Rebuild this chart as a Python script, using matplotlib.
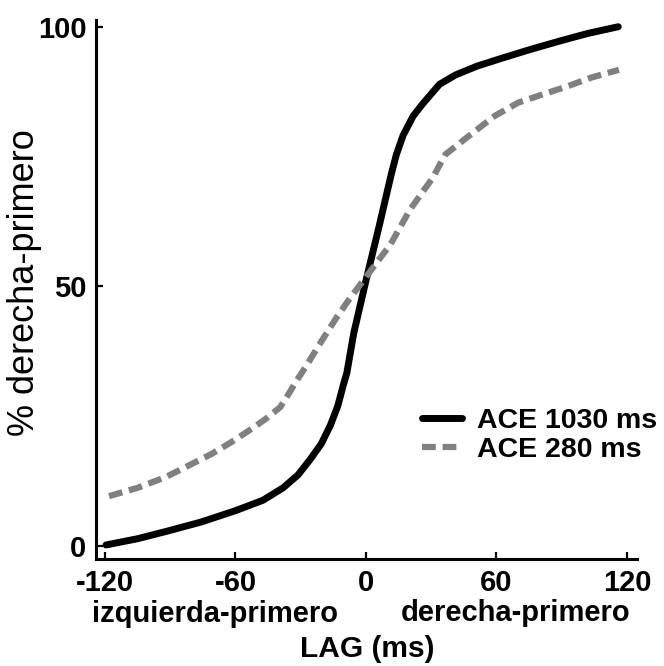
import matplotlib
matplotlib.use('Agg')
import matplotlib.pyplot as plt

# LAG values (ms) and % derecha-primero
lag_1030 = [-119.5, -105.0, -91.9, -75.9, -60.0, -47.4, -38.1, -31.2, -25.6,
            -20.5, -16.3, -13.0, -10.2, -8.8, -5.6, 0.0, 5.9, 11.7, 14.0,
            17.1, 21.7, 26.2, 33.8, 41.1, 51.0, 62.2, 75.4, 88.7, 101.9, 116.0]
pct_1030 = [0.2, 1.4, 2.8, 4.6, 6.8, 8.8, 11.2, 13.7, 16.7,
            19.7, 23.3, 26.9, 31.3, 33.3, 41.0, 51.1, 61.3, 71.7, 75.4,
            79.1, 82.8, 85.2, 88.9, 90.7, 92.4, 93.9, 95.6, 97.2, 98.7, 100.0]

lag_280 = [-118.1, -105.0, -91.9, -71.1, -61.5, -52.1, -46.0, -39.5, -35.8,
           -32.1, -27.4, -20.5, -13.5, -7.9, -0.9, 5.0, 11.3, 20.3, 30.7,
           36.5, 46.5, 59.1, 70.1, 81.5, 92.5, 103.5, 116.3]
pct_280 = [9.6, 11.2, 13.3, 17.7, 20.1, 22.7, 24.5, 26.7, 29.1,
           31.7, 34.7, 39.4, 44.0, 47.4, 51.3, 54.6, 58.1, 64.8, 70.9,
           75.4, 78.7, 82.8, 85.4, 87.0, 88.5, 90.2, 91.7]

x_ticks = [-120, -60, 0, 60, 120]
y_ticks = [0, 50, 100]

plt.rcParams['font.family'] = ['Liberation Sans', 'DejaVu Sans']

fig = plt.figure(figsize=(6.64, 6.66), dpi=100)
ax = fig.add_axes([0.1446, 0.1607, 0.8147, 0.8093])

ax.plot(lag_1030, pct_1030, color='black', linewidth=5,
        solid_capstyle='round', solid_joinstyle='round', label='ACE 1030 ms')
ax.plot(lag_280, pct_280, color='#808080', linewidth=4.5,
        dashes=(2.2, 1.1), dash_capstyle='butt', dash_joinstyle='round',
        label='ACE 280 ms')

ax.set_xlim(-124.1, 124.6)
ax.set_ylim(-2.5, 101.3)
ax.set_xticks(x_ticks)
ax.set_yticks(y_ticks)
ax.set_xticklabels([str(v) for v in x_ticks], fontsize=21, fontweight='bold')
ax.set_yticklabels([str(v) for v in y_ticks], fontsize=21, fontweight='bold')
ax.tick_params(direction='in', length=5, width=1.6)
ax.tick_params(axis='x', pad=7)
ax.tick_params(axis='y', pad=7)

for side in ['top', 'right']:
    ax.spines[side].set_visible(False)
for side in ['left', 'bottom']:
    ax.spines[side].set_linewidth(2.2)

# axis titles placed in figure coordinates
fig.text(25 / 664, 1 - 283 / 666, '% derecha-primero', fontsize=26,
         rotation=90, ha='center', va='center')
fig.text(215 / 664, 1 - 622 / 666, 'izquierda-primero', fontsize=21,
         fontweight='bold', ha='center', va='baseline')
fig.text(516 / 664, 1 - 621 / 666, 'derecha-primero', fontsize=21,
         fontweight='bold', ha='center', va='baseline')
fig.text(367 / 664, 1 - 657 / 666, 'LAG (ms)', fontsize=21.5,
         fontweight='bold', ha='center', va='baseline')

ax.legend(loc='lower right', bbox_to_anchor=(1.085, 0.13), frameon=False,
          prop={'size': 20.5, 'weight': 'bold'}, handlelength=1.4,
          handletextpad=0.53, labelspacing=0.1)

fig.savefig('out.png', dpi=100)
